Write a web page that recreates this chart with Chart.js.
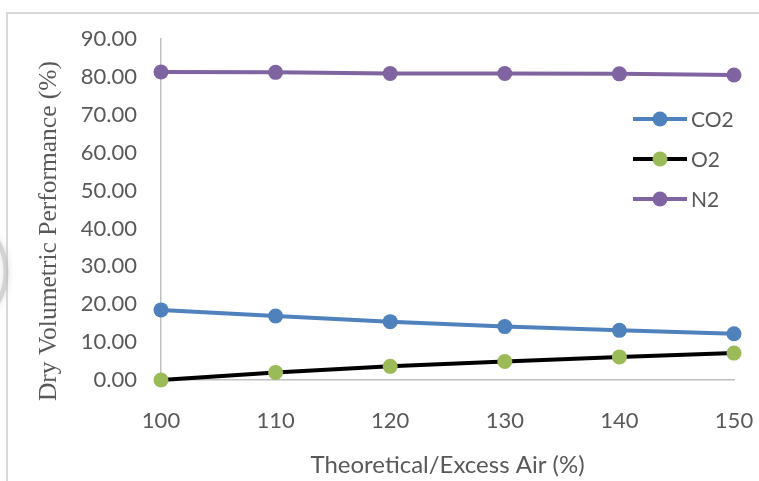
<!DOCTYPE html>
<html>
<head>
<meta charset="utf-8">
<script src="https://cdn.jsdelivr.net/npm/chart.js@4/dist/chart.umd.min.js"></script>
<style>
  html, body { margin: 0; padding: 0; background: #fff; }
  canvas { display: block; }
</style>
</head>
<body>
<canvas id="chart" width="759" height="481"></canvas>
<script>
// datos
const categorias = ['100', '110', '120', '130', '140', '150'];
const co2 = [18.5, 16.9, 15.4, 14.1, 13.1, 12.2];
const o2 = [0.0, 2.0, 3.6, 4.9, 6.1, 7.1];
const n2 = [81.3, 81.2, 80.9, 80.9, 80.8, 80.5];
const yTicks = { min: 0, max: 90, step: 10 };

const tituloY = 'Dry Volumetric Performance (%)';
const tituloX = 'Theoretical/Excess Air (%)';
const gris = '#595959';

// marco, sombra gris a la izquierda, titulo Y y leyenda
const decoracion = {
    id: 'decoracion',
    beforeDraw(chart) {
        const ctx = chart.ctx;
        ctx.save();
        ctx.fillStyle = '#fff';
        ctx.fillRect(0, 0, chart.width, chart.height);
        ctx.strokeStyle = '#d9d9d9';
        ctx.lineWidth = 2;
        ctx.strokeRect(7, 13, 900, 900);
        // arco difuso (marca de agua)
        ctx.strokeStyle = 'rgba(190,190,190,0.55)';
        ctx.lineWidth = 5;
        ctx.shadowColor = 'rgba(180,180,180,0.8)';
        ctx.shadowBlur = 6;
        ctx.beginPath();
        ctx.arc(-52, 272, 58, -0.8, 0.8);
        ctx.stroke();
        ctx.restore();
    },
    afterDraw(chart) {
        const ctx = chart.ctx;
        ctx.save();
        // titulo eje Y en serif
        ctx.translate(49, 231);
        ctx.rotate(-Math.PI / 2);
        ctx.fillStyle = gris;
        ctx.font = '25.5px "Liberation Serif", "Times New Roman", serif';
        ctx.textAlign = 'center';
        ctx.textBaseline = 'middle';
        ctx.fillText(tituloY, 0, 0);
        ctx.restore();

        // leyenda dentro del area
        ctx.save();
        chart.data.datasets.forEach((ds, i) => {
            const y = 119 + i * 40;
            ctx.strokeStyle = ds.borderColor;
            ctx.lineWidth = 4;
            ctx.beginPath();
            ctx.moveTo(633, y);
            ctx.lineTo(687, y);
            ctx.stroke();
            ctx.fillStyle = ds.pointBackgroundColor;
            ctx.beginPath();
            ctx.arc(660, y, 7.5, 0, Math.PI * 2);
            ctx.fill();
            ctx.fillStyle = gris;
            ctx.font = '21px Lato, sans-serif';
            ctx.textAlign = 'left';
            ctx.textBaseline = 'middle';
            ctx.fillText(ds.label, 691, y + 1);
        });
        ctx.restore();
    }
};

function serie(label, datos, linea, punto) {
    return {
        label: label,
        data: datos,
        borderColor: linea,
        backgroundColor: punto,
        pointBackgroundColor: punto,
        pointBorderColor: punto,
        pointBorderWidth: 0,
        pointRadius: 7.5,
        borderWidth: 4,
        tension: 0,
        fill: false,
        clip: false
    };
}

new Chart(document.getElementById('chart'), {
    type: 'line',
    data: {
        labels: categorias,
        datasets: [
            serie('CO2', co2, '#4f81bd', '#4f81bd'),
            serie('O2', o2, '#000000', '#9bbb59'),
            serie('N2', n2, '#8064a2', '#8064a2')
        ]
    },
    options: {
        responsive: false,
        animation: false,
        devicePixelRatio: 1,
        layout: { padding: { left: 0, top: 39, right: 25, bottom: 0 } },
        plugins: { legend: { display: false }, tooltip: { enabled: false } },
        scales: {
            x: {
                offset: false,
                grid: { display: false, drawTicks: false },
                border: { display: true, color: '#bfbfbf', width: 1.5 },
                ticks: { color: gris, font: { family: 'Lato', size: 22 }, padding: 28, maxRotation: 0 },
                title: { display: true, text: tituloX, color: gris, font: { family: 'Lato', size: 24 }, padding: { top: 0, bottom: 1 } },
                afterFit(scale) {
                    scale.height = 101;
                    scale.paddingLeft = 0;
                    scale.paddingRight = 0;
                }
            },
            y: {
                min: yTicks.min,
                max: yTicks.max,
                grid: { display: false, drawTicks: false },
                border: { display: true, color: '#bfbfbf', width: 1.5 },
                ticks: {
                    stepSize: yTicks.step,
                    color: gris,
                    font: { family: 'Lato', size: 22 },
                    padding: 24,
                    callback: v => v.toFixed(2)
                },
                afterFit(scale) { scale.width = 161; }
            }
        }
    },
    plugins: [decoracion]
});
</script>
</body>
</html>
